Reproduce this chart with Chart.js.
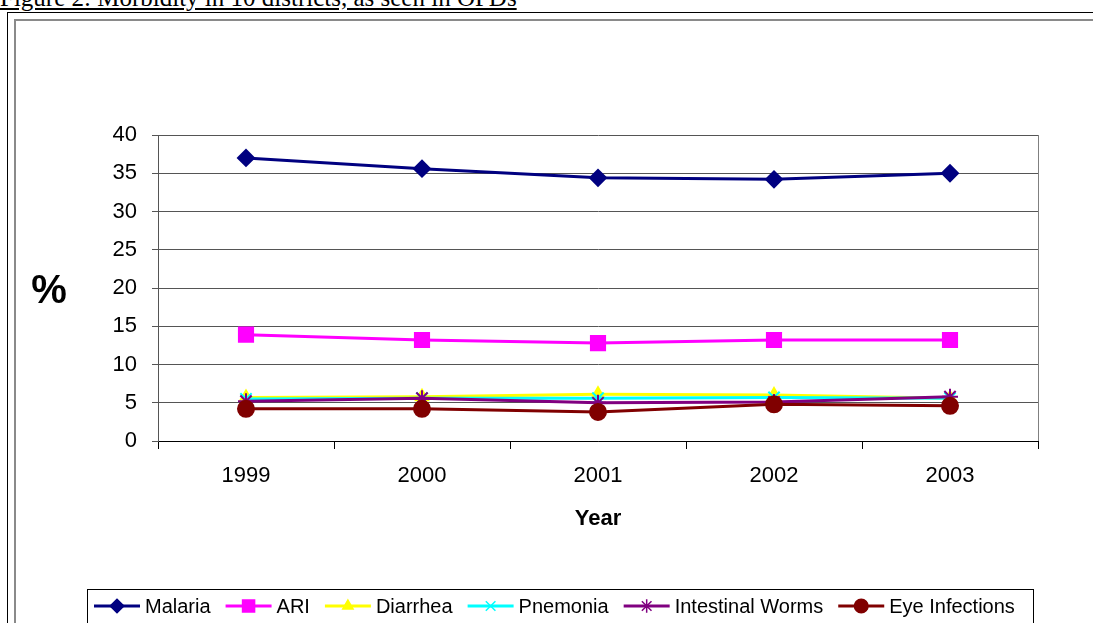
<!DOCTYPE html>
<html lang="en">
<head>
  <meta charset="UTF-8"/>
  <title>Morbidity in 10 districts</title>
  <style>
    body { margin: 0; width: 1093px; height: 623px; overflow: hidden; background: #fff; position: relative; }
    .caption { position: absolute; left: 0; top: -15px; font: 25px "Liberation Serif", "Times New Roman", serif; line-height: 25px; text-decoration: underline; white-space: nowrap; color: #000; }
    .frame-outer { position: absolute; left: 7px; top: 12px; width: 1200px; height: 700px; border: 1px solid #000; }
    .frame-inner { position: absolute; left: 14px; top: 19px; width: 1200px; height: 700px; border: 2px solid #8a8a8a; }
    #chart { position: absolute; left: 0; top: 0; }
  </style>
</head>
<body>
  <div class="caption">Figure 2: Morbidity in 10 districts, as seen in OPDs</div>
  <div class="frame-outer"></div>
  <div class="frame-inner"></div>
  <canvas id="chart" width="1093" height="623"></canvas>
  <script src="https://cdn.jsdelivr.net/npm/chart.js"></script>
  <script>
    const years = ['1999', '2000', '2001', '2002', '2003']
    const malaria = [37.0, 35.6, 34.4, 34.2, 35.0]
    const ari = [13.9, 13.2, 12.8, 13.2, 13.2]
    const diarrhea = [5.7, 5.8, 6.1, 6.0, 5.6]
    const pnemonia = [5.5, 5.6, 5.6, 5.7, 5.6]
    const worms = [5.2, 5.6, 5.0, 5.1, 5.8]
    const eyeInfections = [4.2, 4.2, 3.8, 4.8, 4.6]

    const font = '"Liberation Sans", Arial, sans-serif'

    const series = [
      { label: 'Malaria', data: malaria, color: '#000080', style: 'rectRot', r: 8 },
      { label: 'ARI', data: ari, color: '#ff00ff', style: 'rect', r: 10 },
      { label: 'Diarrhea', data: diarrhea, color: '#ffff00', style: 'triangle', r: 7 },
      { label: 'Pnemonia', data: pnemonia, color: '#00ffff', style: 'crossRot', r: 8 },
      { label: 'Intestinal Worms', data: worms, color: '#800080', style: 'star', r: 8 },
      { label: 'Eye Infections', data: eyeInfections, color: '#800000', style: 'circle', r: 8 }
    ]

    // axis titles, plot frame and the boxed legend at the bottom
    const extras = {
      id: 'extras',
      afterDraw(chart) {
        const ctx = chart.ctx, area = chart.chartArea
        ctx.save()
        ctx.strokeStyle = '#808080'
        ctx.lineWidth = 1
        ctx.beginPath()
        ctx.moveTo(area.right + 0.5, area.top)
        ctx.lineTo(area.right + 0.5, area.bottom)
        ctx.stroke()

        ctx.fillStyle = '#000'
        ctx.textAlign = 'center'
        ctx.textBaseline = 'middle'
        ctx.font = 'bold 40px ' + font
        ctx.fillText('%', 49, 292)
        ctx.font = 'bold 22px ' + font
        ctx.fillText('Year', (area.left + area.right) / 2, 519)

        // legend
        ctx.fillStyle = '#fff'
        ctx.fillRect(87, 589, 947, 40)
        ctx.strokeStyle = '#000'
        ctx.lineWidth = 1
        ctx.strokeRect(87.5, 589.5, 946, 40)
        ctx.font = '20px ' + font
        ctx.textAlign = 'left'
        let x = 94
        const y = 606
        chart.data.datasets.forEach(ds => {
          ctx.strokeStyle = ds.borderColor
          ctx.lineWidth = 3
          ctx.beginPath()
          ctx.moveTo(x, y)
          ctx.lineTo(x + 46, y)
          ctx.stroke()
          ctx.fillStyle = ds.borderColor
          ctx.lineWidth = 1.5
          Chart.helpers.drawPoint(ctx, { pointStyle: ds.pointStyle, radius: ds.pointRadius * 0.85, rotation: 0, borderWidth: 1.5 }, x + 23, y)
          ctx.fill()
          ctx.fillStyle = '#000'
          ctx.fillText(ds.label, x + 51, y + 1)
          x += 51 + ctx.measureText(ds.label).width + 15
        })
        ctx.restore()
      }
    }

    new Chart(document.getElementById('chart'), {
      type: 'line',
      data: {
        labels: years,
        datasets: series.map((s, i) => ({
          label: s.label,
          data: s.data,
          borderColor: s.color,
          backgroundColor: s.color,
          pointBackgroundColor: s.color,
          pointBorderColor: s.color,
          pointStyle: s.style,
          pointRadius: s.r,
          pointBorderWidth: 2,
          borderWidth: 3,
          tension: 0,
          order: series.length - i
        }))
      },
      options: {
        responsive: false,
        animation: false,
        devicePixelRatio: 1,
        layout: { padding: { left: 0, top: 135, right: 55, bottom: 0 } },
        plugins: { legend: { display: false }, tooltip: { enabled: false } },
        scales: {
          x: {
            offset: true,
            afterFit(scale) { scale.height = 182 },
            grid: { offset: true, drawOnChartArea: false, color: '#000', tickLength: 8 },
            border: { color: '#000', width: 1 },
            ticks: { color: '#000', font: { family: font, size: 22 }, padding: 14 }
          },
          y: {
            min: 0,
            max: 40,
            afterFit(scale) { scale.width = 158 },
            grid: { color: '#555', tickLength: 6 },
            border: { color: '#555', width: 1 },
            ticks: { stepSize: 5, color: '#000', font: { family: font, size: 22 }, padding: 15 }
          }
        }
      },
      plugins: [extras]
    })
  </script>
</body>
</html>
